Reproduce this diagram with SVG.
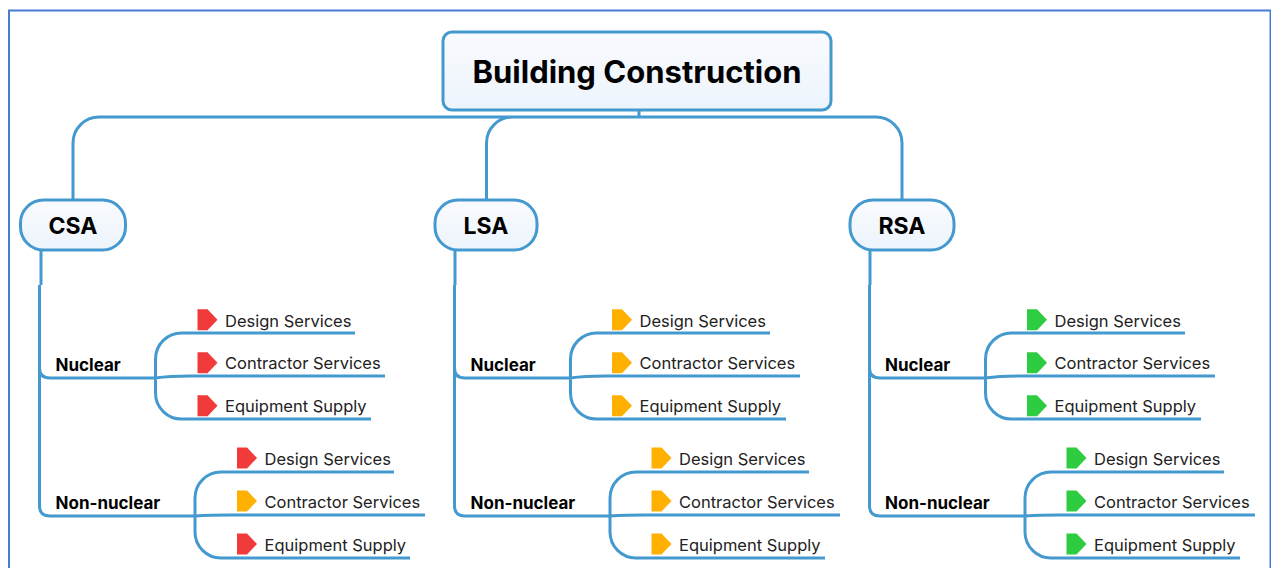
<svg xmlns="http://www.w3.org/2000/svg" width="1271" height="568" viewBox="0 0 1271 568">
<style>
.c{fill:none;stroke:#4499cf;stroke-width:3;stroke-linecap:butt}
.n{fill:url(#g);stroke:#4499cf;stroke-width:3}
.t{font-family:Inter,"Liberation Sans",sans-serif;fill:#000;font-weight:700;text-anchor:middle}
.b{font-family:Inter,"Liberation Sans",sans-serif;fill:#000;font-weight:700;font-size:17px}
.l{font-family:Inter,"Liberation Sans",sans-serif;fill:#222;font-size:16.5px}
.r{fill:#f13a3a}.y{fill:#ffb000}.e{fill:#2ecc40}
</style>
<defs>
<linearGradient id="g" x1="0" y1="0" x2="0" y2="1"><stop offset="0" stop-color="#f9fbfe"/><stop offset="1" stop-color="#edf4fc"/></linearGradient>
<polygon id="f" points="0,0 10,0 20,10.5 10,21 0,21"/>
</defs>
<rect width="1271" height="568" fill="#fff"/>
<path d="M9 568V10.5H1270.5V568" fill="none" stroke="#4a7bd3" stroke-width="2"/>
<g id="connectors">
<path class="c" d="M639 110V117M73 200V143A26 26 0 0 1 99 117H876A26 26 0 0 1 902 143V200M486.5 200V143A26 26 0 0 1 512.5 117"/>
<g id="conn-csa">
<path class="c" d="M41 250V285M39.5 285V368Q39.5 378 50 378H155M39.5 368V506Q39.5 516 50 516H195"/>
<path class="c" d="M355 333H182A26 26 0 0 0 155.5 359V393A26 26 0 0 0 182 419H371M155 378Q170 376 190 376H385"/>
<path class="c" d="M394 472H221A26 26 0 0 0 195 498V532A26 26 0 0 0 221 558H410M195 516Q210 515 230 515H425"/>
</g>
<g id="conn-lsa" transform="translate(415 0)">
<path class="c" d="M40 250V285M39.5 285V368Q39.5 378 50 378H155M39.5 368V506Q39.5 516 50 516H195"/>
<path class="c" d="M355 333H182A26 26 0 0 0 155.5 359V393A26 26 0 0 0 182 419H371M155 378Q170 376 190 376H385"/>
<path class="c" d="M394 472H221A26 26 0 0 0 195 498V532A26 26 0 0 0 221 558H410M195 516Q210 515 230 515H425"/>
</g>
<g id="conn-rsa" transform="translate(830 0)">
<path class="c" d="M40 250V285M39.5 285V368Q39.5 378 50 378H155M39.5 368V506Q39.5 516 50 516H195"/>
<path class="c" d="M355 333H182A26 26 0 0 0 155.5 359V393A26 26 0 0 0 182 419H371M155 378Q170 376 190 376H385"/>
<path class="c" d="M394 472H221A26 26 0 0 0 195 498V532A26 26 0 0 0 221 558H410M195 516Q210 515 230 515H425"/>
</g>
</g>
<g id="root"><rect class="n" x="443" y="32" width="388" height="78" rx="9"/><text class="t" x="637" y="82.7" font-size="31">Building Construction</text></g>
<g id="csa"><rect class="n" x="20.5" y="200" width="105" height="50" rx="23"/><text class="t" x="73" y="234" font-size="23">CSA</text></g>
<g id="lsa"><rect class="n" x="435" y="200" width="102" height="50" rx="23"/><text class="t" x="486" y="234" font-size="23">LSA</text></g>
<g id="rsa"><rect class="n" x="850" y="200" width="104" height="50" rx="23"/><text class="t" x="902" y="234" font-size="23">RSA</text></g>

<g id="csa-nuclear"><text class="b" x="55.5" y="371">Nuclear</text></g>
<g id="csa-nuclear-design"><use href="#f" class="r" x="197.5" y="309.3"/><text class="l" x="225" y="326.5">Design Services</text></g>
<g id="csa-nuclear-contractor"><use href="#f" class="r" x="197.5" y="352.3"/><text class="l" x="225" y="369.3">Contractor Services</text></g>
<g id="csa-nuclear-equipment"><use href="#f" class="r" x="197.5" y="395.3"/><text class="l" x="225" y="412.3">Equipment Supply</text></g>
<g id="csa-non"><text class="b" x="55.5" y="509.3">Non-nuclear</text></g>
<g id="csa-non-design"><use href="#f" class="r" x="237" y="447.5"/><text class="l" x="264.5" y="464.8">Design Services</text></g>
<g id="csa-non-contractor"><use href="#f" class="y" x="237" y="490.5"/><text class="l" x="264.5" y="507.8">Contractor Services</text></g>
<g id="csa-non-equipment"><use href="#f" class="r" x="237" y="533.5"/><text class="l" x="264.5" y="550.8">Equipment Supply</text></g>

<g id="lsa-nuclear"><text class="b" x="470.5" y="371">Nuclear</text></g>
<g id="lsa-nuclear-design"><use href="#f" class="y" x="612" y="309.3"/><text class="l" x="639.5" y="326.5">Design Services</text></g>
<g id="lsa-nuclear-contractor"><use href="#f" class="y" x="612" y="352.3"/><text class="l" x="639.5" y="369.3">Contractor Services</text></g>
<g id="lsa-nuclear-equipment"><use href="#f" class="y" x="612" y="395.3"/><text class="l" x="639.5" y="412.3">Equipment Supply</text></g>
<g id="lsa-non"><text class="b" x="470.5" y="509.3">Non-nuclear</text></g>
<g id="lsa-non-design"><use href="#f" class="y" x="651.5" y="447.5"/><text class="l" x="679" y="464.8">Design Services</text></g>
<g id="lsa-non-contractor"><use href="#f" class="y" x="651.5" y="490.5"/><text class="l" x="679" y="507.8">Contractor Services</text></g>
<g id="lsa-non-equipment"><use href="#f" class="y" x="651.5" y="533.5"/><text class="l" x="679" y="550.8">Equipment Supply</text></g>

<g id="rsa-nuclear"><text class="b" x="885" y="371">Nuclear</text></g>
<g id="rsa-nuclear-design"><use href="#f" class="e" x="1027" y="309.3"/><text class="l" x="1054.5" y="326.5">Design Services</text></g>
<g id="rsa-nuclear-contractor"><use href="#f" class="e" x="1027" y="352.3"/><text class="l" x="1054.5" y="369.3">Contractor Services</text></g>
<g id="rsa-nuclear-equipment"><use href="#f" class="e" x="1027" y="395.3"/><text class="l" x="1054.5" y="412.3">Equipment Supply</text></g>
<g id="rsa-non"><text class="b" x="885" y="509.3">Non-nuclear</text></g>
<g id="rsa-non-design"><use href="#f" class="e" x="1066.5" y="447.5"/><text class="l" x="1094" y="464.8">Design Services</text></g>
<g id="rsa-non-contractor"><use href="#f" class="e" x="1066.5" y="490.5"/><text class="l" x="1094" y="507.8">Contractor Services</text></g>
<g id="rsa-non-equipment"><use href="#f" class="e" x="1066.5" y="533.5"/><text class="l" x="1094" y="550.8">Equipment Supply</text></g>
</svg>
